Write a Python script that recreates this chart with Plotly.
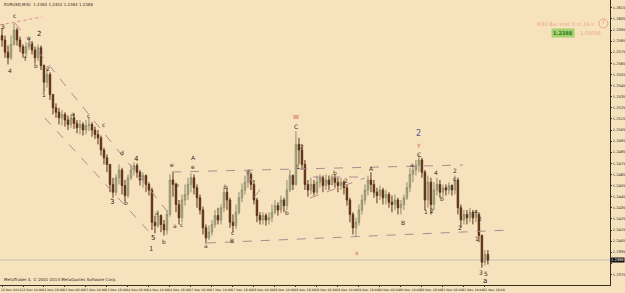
import plotly.graph_objects as go

# ---------------- data (prices in pips above 1.2000) ----------------
first_open_pips = 590
close_pips = [586,575,570,582,595,586,580,574,580,583,577,570,579,563,548,555,537,525,521,516,
              519,514,510,516,511,507,510,505,509,510,505,501,498,487,480,474,456,449,462,469,
              455,446,462,469,473,467,460,464,456,451,422,419,428,420,415,429,460,456,438,426,
              442,447,456,462,453,444,433,417,408,413,420,428,424,435,449,442,422,419,431,444,
              451,458,465,456,442,428,424,428,424,426,431,437,433,442,437,451,464,456,492,487,
              474,456,451,456,449,458,462,455,460,456,462,458,455,458,453,442,429,417,422,433,
              442,451,460,456,449,446,451,444,447,440,438,442,435,438,444,453,465,469,473,478,
              467,442,458,438,451,456,449,453,451,455,451,460,435,424,429,426,431,426,429,410,
              386,393,388]
high_pips = [597,590,581,590,601,597,589,582,584,589,585,580,582,581,564,561,557,537,529,525,
             523,521,518,519,520,514,514,512,514,516,512,508,505,500,489,483,474,462,465,474,
             471,460,465,474,476,475,469,467,465,458,453,428,433,429,424,433,465,467,457,442,
             447,456,462,466,465,456,447,436,420,419,424,433,435,438,454,453,444,429,438,449,
             457,464,469,467,460,444,431,431,430,431,438,442,440,446,444,460,469,465,504,498,
             492,478,460,462,460,464,465,464,465,464,465,465,462,462,460,456,444,431,426,438,
             447,456,464,467,460,453,455,453,451,449,446,447,444,442,447,458,471,474,478,483,
             480,469,464,462,458,462,460,456,456,458,456,464,462,438,433,433,435,433,433,431,
             411,397,397]
low_pips = [580,570,564,568,581,581,575,570,572,577,573,565,567,559,539,543,532,519,516,510,
            509,508,505,507,506,502,501,500,501,504,499,497,492,482,474,467,449,444,446,456,
            447,441,444,460,464,462,455,453,449,446,415,412,417,413,410,411,427,445,431,420,
            422,437,442,449,447,435,429,411,403,406,410,417,420,420,431,433,417,413,416,429,
            440,447,453,451,438,422,420,420,419,420,422,429,428,430,431,433,449,451,455,474,
            469,451,445,447,446,447,453,449,451,451,455,453,449,451,447,437,422,411,409,419,
            429,438,446,449,444,439,442,438,438,435,431,433,429,429,433,442,449,458,464,467,
            462,433,435,429,433,446,444,444,446,447,446,447,429,417,420,420,422,420,422,404,
            381,383,384]

date_labels = ["12 Nov 2014", "12 Nov 10:00", "12 Nov 18:00", "13 Nov 02:00", "13 Nov 10:00",
               "13 Nov 18:00", "14 Nov 02:00", "14 Nov 10:00", "14 Nov 18:00", "17 Nov 02:00",
               "17 Nov 10:00", "17 Nov 18:00", "18 Nov 02:00", "18 Nov 10:00", "18 Nov 18:00",
               "19 Nov 02:00", "19 Nov 10:00", "19 Nov 18:00", "20 Nov 02:00", "20 Nov 10:00",
               "20 Nov 18:00", "21 Nov 02:00", "21 Nov 10:00", "21 Nov 18:00"]

price_ticks = [1.2365, 1.2375, 1.2385, 1.2395, 1.2405, 1.2415, 1.2425, 1.2435, 1.2445, 1.2455,
               1.2465, 1.2475, 1.2485, 1.2495, 1.2505, 1.2515, 1.2525, 1.2535, 1.2545, 1.2555,
               1.2565, 1.2575, 1.2585, 1.2595, 1.2605, 1.2615]

current_price = 1.2388

# wave labels: (bar, pips, text, kind)
wave_labels = [
    (0.3, 598, "3", "s"), (4, 608, "c", "s"), (2.7, 559, "4", "s"), (7.7, 569, "f", "b"),
    (9, 588, "a", "s"), (12.3, 591, "2", "b"), (11.3, 563, "b", "s"), (15.3, 560, "2", "s"),
    (14, 537, "1", "s"), (23.7, 520, "a", "s"), (28.7, 518, "c", "s"), (33.7, 510, "c", "s"),
    (40, 485, "d", "s"), (44.7, 479, "4", "b"), (36.7, 440, "3", "b"), (41.3, 440, "b", "s"),
    (50.3, 408, "5", "b"), (49.7, 398, "1", "m"), (51.7, 431, "a", "s"), (54, 405, "b", "s"),
    (56.7, 474, "e", "s"), (58.3, 456, "b", "s"), (57.7, 419, "a", "s"), (60, 420, "c", "s"),
    (63.7, 480, "A", "s"), (63.7, 472, "e", "s"), (68, 401, "a", "s"), (76.7, 406, "B", "s"),
    (74.7, 454, "b", "s"), (77, 413, "c", "s"), (82, 468, "d", "s"), (95, 431, "b", "s"),
    (98, 517, "W", "r"), (98, 508, "C", "s"), (100, 490, "2", "s"), (98.7, 472, "1", "s"),
    (111, 467, "b", "s"), (114.7, 460, "2", "s"), (118.3, 395, "x", "r"), (123.3, 470, "A", "s"),
    (133.7, 422, "B", "s"), (139, 502, "2", "p"), (139, 491, "Y", "r"), (139, 483, "C", "s"),
    (136.7, 474, "a", "s"), (141.3, 432, "1", "s"), (143.5, 433, "2", "s"), (144.7, 467, "4", "s"),
    (146.7, 443, "b", "s"), (151, 469, "2", "s"), (151, 461, "c", "s"), (152.7, 417, "2", "s"),
    (158, 432, "4", "s"), (159.3, 425, "2", "s"), (158.3, 407, "1", "s"), (159.7, 377, "3", "s"),
    (161.5, 376, "5", "s"), (161, 369, "a", "b"),
]

# trend lines: (x0 bar, y0 price, x1 bar, y1 price, dash, colour-kind)
trend_lines = [
    (-0.7, 1.25995, 13.3, 1.26067, "dot", "red"),
    (4.3, 1.26013, 55.3, 1.24312, "dash", "mauve"),
    (14.3, 1.25158, 50.3, 1.24096, "dash", "mauve"),
    (56.7, 1.24672, 153.7, 1.24735, "dash", "mauve"),
    (68.3, 1.24033, 169.3, 1.24150, "dash", "mauve"),
    (82, 1.24636, 86, 1.24510, "dash", "mauve"),
    (86, 1.24510, 82.7, 1.24402, "dash", "mauve"),
    (103.7, 1.24627, 121, 1.24627, "dash", "mauve"),
    (102.7, 1.24438, 121, 1.24618, "dash", "mauve"),
]

# ---------------- build ----------------
BG = "#F6E3BD"
PW, PH = 610, 285
n = len(close_pips)
idx = list(range(n))
closes = [1.2 + v / 10000 for v in close_pips]
opens = [1.2 + first_open_pips / 10000] + closes[:-1]
highs = [max(1.2 + h / 10000, o, c) for h, o, c in zip(high_pips, opens, closes)]
lows = [min(1.2 + l / 10000, o, c) for l, o, c in zip(low_pips, opens, closes)]

fig = go.Figure(go.Candlestick(
    x=idx, open=opens, high=highs, low=lows, close=closes,
    increasing=dict(line=dict(color="#8E8C6C", width=1), fillcolor="#CFCBA8"),
    decreasing=dict(line=dict(color="#5E3218", width=1), fillcolor="#4A2210"),
    whiskerwidth=0, showlegend=False, hoverinfo="skip",
))

shapes = []
for x0, y0, x1, y1, dash, ck in trend_lines:
    shapes.append(dict(type="line", xref="x", yref="y", x0=x0, y0=y0, x1=x1, y1=y1,
                       line=dict(color="#E08A84" if ck == "red" else "#B48890",
                                 width=1, dash=dash)))
shapes.append(dict(type="line", xref="paper", yref="y", x0=0, x1=1,
                   y0=current_price, y1=current_price,
                   line=dict(color="#C9C0B0", width=1), layer="below"))
shapes.append(dict(type="circle", xref="paper", yref="paper",
                   x0=599 / PW, x1=608 / PW, y0=1 - 28 / PH, y1=1 - 19 / PH,
                   line=dict(color="#E8A48C", width=1)))
shapes.append(dict(type="line", xref="paper", yref="paper",
                   x0=603.5 / PW, x1=603.5 / PW, y0=1 - 23.5 / PH, y1=1 - 20.5 / PH,
                   line=dict(color="#E8A48C", width=1)))

annotations = []
style = {"s": ("#3A2A1A", 6), "b": ("#1E1408", 7), "m": ("#4A4040", 7),
         "r": ("#D05A40", 6), "p": ("#5A5290", 8)}
for bx, py, txt, kind in wave_labels:
    col, sz = style[kind]
    annotations.append(dict(x=bx, y=1.2 + py / 10000, xref="x", yref="y", text=txt,
                            showarrow=False, font=dict(family="DejaVu Sans", size=sz, color=col)))

annotations += [
    dict(x=0.003, y=1.0, xref="paper", yref="paper", xanchor="left", yanchor="top",
         text="EURUSD,M30  1.2384 1.2403 1.2384 1.2388", showarrow=False,
         font=dict(family="DejaVu Sans", size=4, color="#3A2A1A")),
    dict(x=0.003, y=1.5 / PH, xref="paper", yref="paper", xanchor="left", yanchor="bottom",
         text="MetaTrader 4, © 2001-2014 MetaQuotes Software Corp.", showarrow=False,
         font=dict(family="DejaVu Sans", size=4, color="#3A2A1A")),
    dict(x=596 / PW, y=1 - 24 / PH, xref="paper", yref="paper", xanchor="right", yanchor="middle",
         text="M30 Bar end: 0 m 19 s", showarrow=False,
         font=dict(family="DejaVu Sans", size=5, color="#E8A48C")),
    dict(x=575 / PW, y=1 - 32.5 / PH, xref="paper", yref="paper", xanchor="right", yanchor="middle",
         text="<b>1.2388</b>", showarrow=False, bgcolor="#A6D070",
         font=dict(family="DejaVu Sans", size=5, color="#2E7D1E")),
    dict(x=578 / PW, y=1 - 32.5 / PH, xref="paper", yref="paper", xanchor="left", yanchor="middle",
         text="1.00058", showarrow=False,
         font=dict(family="DejaVu Sans", size=5, color="#E8A48C")),
    dict(x=1.0, y=current_price, xref="paper", yref="y", xanchor="left", yanchor="middle",
         text="1.2388", showarrow=False, bgcolor="#111111", borderpad=0,
         font=dict(family="DejaVu Sans", size=3.6, color="#FFFFFF")),
]

tick_text = ["" if abs(v - current_price) < 0.0005 else f"{v:.4f}" for v in price_ticks]

fig.update_layout(
    width=625, height=293,
    margin=dict(l=0, r=15, t=0, b=8),
    paper_bgcolor=BG, plot_bgcolor=BG,
    shapes=shapes, annotations=annotations,
    showlegend=False,
    xaxis=dict(range=[-0.667, 202.7], rangeslider=dict(visible=False), showgrid=False,
               zeroline=False, showline=True, linecolor="#3A3020", linewidth=1, mirror=True,
               tickmode="array", tickvals=[7 * k for k in range(len(date_labels))],
               ticktext=date_labels, ticks="outside", ticklen=1, tickcolor="#3A3020",
               tickangle=0, tickfont=dict(family="DejaVu Sans", size=3.2, color="#222222"),
               ticklabelshift=9, ticklabelstandoff=0, automargin=False),
    yaxis=dict(range=[1.23655, 1.26220], side="right", showgrid=False, zeroline=False,
               showline=True, linecolor="#3A3020", linewidth=1, mirror=True,
               tickmode="array", tickvals=price_ticks, ticktext=tick_text,
               ticks="outside", ticklen=1, tickcolor="#3A3020",
               tickfont=dict(family="DejaVu Sans", size=3.6, color="#222222"),
               ticklabelstandoff=0, automargin=False),
)

fig.write_html("out.html")
